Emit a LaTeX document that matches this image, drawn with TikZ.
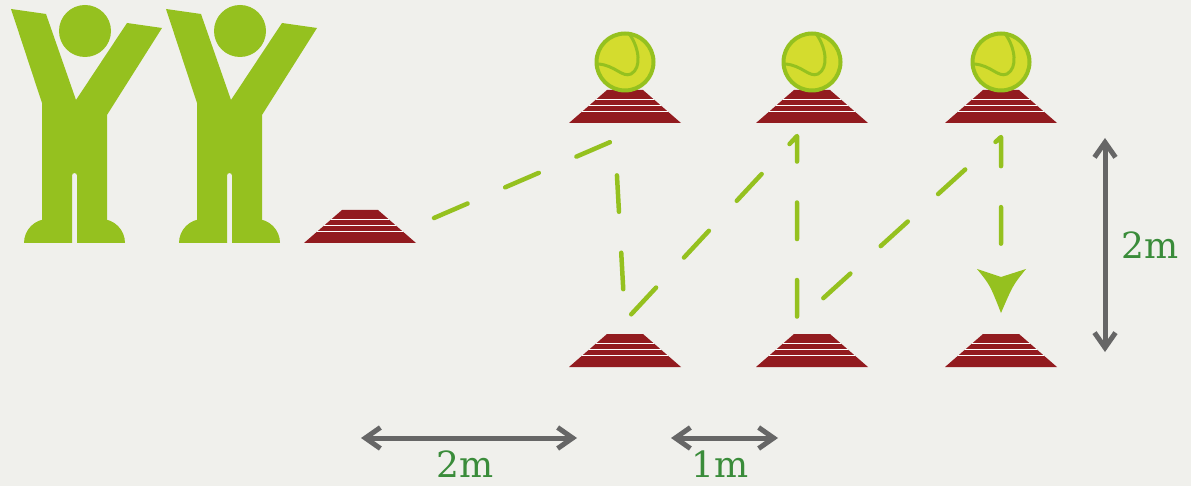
\documentclass[tikz,border=0pt]{standalone}
\usepackage{fontspec}
\usetikzlibrary{arrows.meta}
\newfontfamily\labelfont{DejaVu Serif}

\definecolor{bg}{HTML}{F0F0EC}
\definecolor{leaf}{HTML}{95C11F}
\definecolor{conered}{HTML}{921B1F}
\definecolor{ballfill}{HTML}{D4DC2E}
\definecolor{dimgrey}{HTML}{666666}
\definecolor{labelgreen}{HTML}{3A8C3A}

\begin{document}
\begin{tikzpicture}[x=1pt,y=-1pt,
  % dashed running route between the cones
  route/.style={leaf, line width=4.5pt, line cap=round, line join=round,
    dash pattern=on 36.5pt off 41pt},
  % grey dimension arrows and their labels
  dimline/.style={dimgrey, line width=5pt,
    {Straight Barb[length=15pt,width=21pt]}-{Straight Barb[length=15pt,width=21pt]}},
  dimlabel/.style={labelgreen, font=\labelfont\fontsize{36}{40}\selectfont, inner sep=0pt, anchor=base},
  % a flat training cone, origin at the middle of its base
  cone/.pic={
    \fill[conered] (-56,0) -- (-18,-33) -- (18,-33) -- (56,0) -- cycle;
    \draw[white, line width=1.8pt]
      (-29,-23.5) -- (29,-23.5)
      (-35.9,-17.5) -- (35.9,-17.5)
      (-42.8,-11.5) -- (42.8,-11.5);
  },
  % a tennis ball, origin at its centre
  ball/.pic={
    \fill[ballfill] (0,0) circle (28.5);
    \draw[leaf, line width=4pt] (0,0) circle (28.5);
    \draw[leaf, line width=3pt, line cap=round]
      (5,-27) .. controls (14,-14) and (17,6) .. (6,12)
      .. controls (-3,16) and (-10,3) .. (-27,2);
  },
  % a cheering player, origin at the top-left of its frame
  player/.pic={
    \fill[leaf] (85,31) circle (26);
    \fill[leaf] (11,9) -- (46,14) -- (76,100) -- (127,23) -- (162,28)
      -- (107,115) -- (107,243) -- (77,243) -- (77,175.5)
      arc[start angle=0, end angle=-180, radius=2.5]
      -- (72,243) -- (42,243) -- (42,103) -- cycle;
    \fill[leaf] (24,243) arc[start angle=180, end angle=360, radius=24] -- cycle;
    \fill[leaf] (77,243) arc[start angle=180, end angle=360, radius=24] -- cycle;
  }
]
\fill[bg] (0,0) rectangle (1191,486);
\useasboundingbox (0,0) rectangle (1191,486);

% players waiting in line
\pic at (0,0) {player};
\pic at (155,0) {player};

% cone positions (base centres)
\coordinate (startcone) at (360,243);
\coordinate (top1) at (625,123);
\coordinate (top2) at (812,123);
\coordinate (top3) at (1001,123);
\coordinate (bot1) at (625,367);
\coordinate (bot2) at (812,367);
\coordinate (bot3) at (1001,367);

\foreach \c in {startcone,top1,top2,top3,bot1,bot2,bot3}
  \pic at (\c) {cone};
\foreach \c in {top1,top2,top3}
  \pic at ([yshift=61pt]\c) {ball};

% turning points of the route
\coordinate (r0) at (434,218);
\coordinate (r1) at (615,140);
\coordinate (r2) at (625,321);
\coordinate (r3) at (797,136);
\coordinate (r4) at (797,322);
\coordinate (r5) at (1001,137);
\coordinate (r6) at (1001,262);
\coordinate (tip) at (1001,313);

\draw[route] (r0) -- (r1) -- (r2) -- (r3) -- (r4) -- (r5) -- (r6);
\fill[leaf] (tip) .. controls ++(-11,-28) .. ++(-24,-44)
  -- ++(24,8) -- ++(25,-8) .. controls ++(-13,16) .. (tip);

% distances
\coordinate (hA) at (361,438);
\coordinate (hB) at (577,438);
\coordinate (hC) at (671,438);
\coordinate (hD) at (778,438);
\coordinate (vA) at (1105,138);
\coordinate (vB) at (1105,352);
\draw[dimline] (hA) -- (hB);
\draw[dimline] (hC) -- (hD);
\draw[dimline] (vA) -- (vB);

\node[dimlabel] (lab2mh) at (465,477) {2m};
\node[dimlabel] (lab1m) at (720,477) {1m};
\node[dimlabel] (lab2mv) at (1150,259) {2m};
\end{tikzpicture}
\end{document}
